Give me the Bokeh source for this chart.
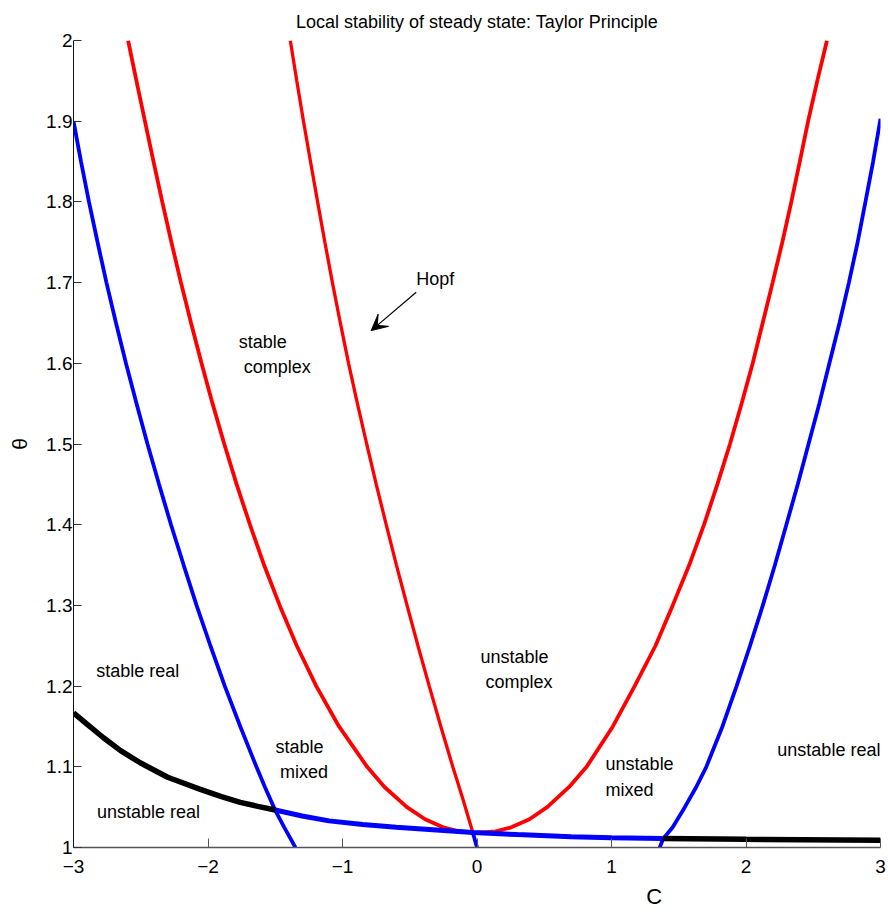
from bokeh.plotting import figure
from bokeh.embed import file_html
from bokeh.resources import INLINE
from bokeh.models import FixedTicker, Label, Arrow, VeeHead

FONT = "Liberation Sans"

# ---- data ----
x_ticks = [-3, -2, -1, 0, 1, 2, 3]
x_tick_labels = ["\u22123", "\u22122", "\u22121", "0", "1", "2", "3"]
y_ticks = [1.0, 1.1, 1.2, 1.3, 1.4, 1.5, 1.6, 1.7, 1.8, 1.9, 2.0]
y_tick_labels = ["1", "1.1", "1.2", "1.3", "1.4", "1.5", "1.6", "1.7", "1.8", "1.9", "2"]

# red boundary (parabola-like), left branch then right branch
red_par_x = [-2.594, -2.532, -2.469, -2.405, -2.340, -2.272, -2.201, -2.126, -2.048, -1.966,
             -1.879, -1.787, -1.688, -1.583, -1.467, -1.340, -1.195, -1.026, -0.817, -0.688,
             -0.521, -0.386, -0.252, -0.136, 0.0,
             0.138, 0.255, 0.390, 0.522, 0.685, 0.815, 1.010, 1.172, 1.327, 1.455, 1.578,
             1.688, 1.787, 1.881, 1.967, 2.050, 2.124, 2.198, 2.270, 2.337, 2.400, 2.462,
             2.530, 2.602]
red_par_y = [2.0, 1.95, 1.9, 1.85, 1.8, 1.75, 1.7, 1.65, 1.6, 1.55,
             1.5, 1.45, 1.4, 1.35, 1.3, 1.25, 1.2, 1.15, 1.1, 1.075,
             1.05, 1.035, 1.025, 1.02, 1.018,
             1.02, 1.025, 1.035, 1.05, 1.075, 1.1, 1.15, 1.2, 1.25, 1.3, 1.35,
             1.4, 1.45, 1.5, 1.55, 1.6, 1.65, 1.7, 1.75, 1.8, 1.85, 1.9,
             1.95, 2.0]

# Hopf boundary (red, steep)
hopf_x = [-1.388, -1.340, -1.290, -1.238, -1.185, -1.131, -1.075, -1.016, -0.955, -0.889,
          -0.820, -0.749, -0.675, -0.599, -0.520, -0.439, -0.355, -0.269, -0.180, -0.105, -0.030]
hopf_y = [2.0, 1.95, 1.9, 1.85, 1.8, 1.75, 1.7, 1.65, 1.6, 1.55,
          1.5, 1.45, 1.4, 1.35, 1.3, 1.25, 1.2, 1.15, 1.1, 1.06, 1.018]

blue_stub_x = [-0.03, 0.0]
blue_stub_y = [1.018, 1.0]

blue_left_x = [-3.0, -2.944, -2.885, -2.821, -2.755, -2.684, -2.610, -2.531, -2.450, -2.364,
               -2.275, -2.181, -2.085, -1.982, -1.875, -1.760, -1.640, -1.577, -1.500, -1.433, -1.350]
blue_left_y = [1.9, 1.85, 1.8, 1.75, 1.7, 1.65, 1.6, 1.55, 1.5, 1.45,
               1.4, 1.35, 1.3, 1.25, 1.2, 1.15, 1.1, 1.075, 1.046, 1.025, 1.0]

blue_flat_x = [-1.5, -1.3, -1.1, -0.85, -0.6, -0.03, 0.3, 0.7, 1.0, 1.38]
blue_flat_y = [1.0464, 1.039, 1.033, 1.0285, 1.025, 1.0185, 1.016, 1.0133, 1.0122, 1.0112]

blue_right_x = [1.358, 1.385, 1.455, 1.545, 1.630, 1.705, 1.825, 1.930, 2.030, 2.125, 2.215,
                2.300, 2.385, 2.465, 2.545, 2.620, 2.695, 2.765, 2.830, 2.888, 2.945, 3.0]
blue_right_y = [1.0, 1.011, 1.025, 1.05, 1.075, 1.1, 1.15, 1.2, 1.25, 1.3, 1.35,
                1.4, 1.45, 1.5, 1.55, 1.6, 1.65, 1.7, 1.75, 1.8, 1.85, 1.903]

black_left_x = [-3.0, -2.9, -2.777, -2.65, -2.504, -2.3, -2.057, -1.9, -1.76, -1.63, -1.5]
black_left_y = [1.167, 1.153, 1.136, 1.12, 1.105, 1.087, 1.072, 1.063, 1.056, 1.051, 1.0464]

black_right_x = [1.38, 2.0, 3.0]
black_right_y = [1.0112, 1.0102, 1.009]

# ---- figure ----
p = figure(width=888, height=912, x_range=(-3, 3), y_range=(1, 2),
           output_backend="svg", toolbar_location=None,
           min_border_left=73, min_border_right=8, min_border_top=40, min_border_bottom=65)
p.outline_line_color = None
p.xgrid.visible = False
p.ygrid.visible = False
p.background_fill_color = "white"
p.border_fill_color = "white"

p.title.text = "Local stability of steady state: Taylor Principle"
p.title.align = "center"
p.title.text_font = FONT
p.title.text_font_size = "18px"
p.title.text_font_style = "normal"
p.title.text_color = "black"
p.title.standoff = 18

p.xaxis.ticker = FixedTicker(ticks=x_ticks)
p.xaxis.major_label_overrides = {t: l for t, l in zip(x_ticks, x_tick_labels)}
p.yaxis.ticker = FixedTicker(ticks=y_ticks)
p.yaxis.major_label_overrides = {t: l for t, l in zip(y_ticks, y_tick_labels)}

for ax in (p.xaxis[0], p.yaxis[0]):
    ax.major_tick_out = 0
    ax.minor_tick_in = 0
    ax.minor_tick_out = 0
    ax.major_label_text_font = FONT
    ax.major_label_text_font_size = "19px"
    ax.major_label_text_color = "black"
    ax.axis_label_text_font = FONT
    ax.axis_label_text_font_style = "normal"
    ax.axis_label_text_color = "black"

p.xaxis.major_tick_in = 9
p.yaxis.major_tick_in = 8
p.xaxis.axis_line_color = "#555555"
p.xaxis.major_tick_line_color = "#555555"
p.xaxis.axis_line_width = 1.5
p.yaxis.axis_line_color = "#111111"
p.yaxis.major_tick_line_color = "#333333"
p.xaxis.major_label_standoff = 12
p.yaxis.major_label_standoff = 1

# x label "C" sits right of centre in the reference: pad with no-break spaces
p.xaxis.axis_label = "\u00a0" * 58 + "C"
p.xaxis.axis_label_text_font_size = "22px"
p.xaxis.axis_label_standoff = 8
p.yaxis.axis_label = "\u03b8"
p.yaxis.axis_label_text_font_size = "21px"
p.yaxis.axis_label_standoff = 12

# ---- curves ----
p.line(red_par_x, red_par_y, line_color="red", line_width=3.8)
p.line(hopf_x, hopf_y, line_color="red", line_width=3.3)
p.line(blue_left_x, blue_left_y, line_color="blue", line_width=3.8)
p.line(blue_right_x, blue_right_y, line_color="blue", line_width=3.8)
p.line(blue_stub_x, blue_stub_y, line_color="blue", line_width=3.8)
p.line(black_left_x, black_left_y, line_color="black", line_width=5.5)
p.line(black_right_x, black_right_y, line_color="black", line_width=5.5)
p.line(blue_flat_x, blue_flat_y, line_color="blue", line_width=5)

# ---- region labels ----
labels = [
    ("stable real", -2.831, 1.219),
    ("unstable real", -2.826, 1.0434),
    ("stable", -1.499, 1.1248),
    ("mixed", -1.464, 1.093),
    ("stable", -1.772, 1.626),
    ("complex", -1.735, 1.595),
    ("unstable", 0.026, 1.2364),
    ("complex", 0.063, 1.2045),
    ("unstable", 0.956, 1.104),
    ("mixed", 0.956, 1.071),
    ("unstable real", 2.233, 1.1207),
    ("Hopf", -0.452, 1.7046),
]
for t, lx, ly in labels:
    p.add_layout(Label(x=lx, y=ly, text=t, text_font=FONT, text_font_size="18px",
                       text_align="left", text_baseline="middle", text_color="black"))

p.add_layout(Arrow(x_start=-0.452, y_start=1.688, x_end=-0.787, y_end=1.6405,
                   line_width=1.2, line_color="black",
                   end=VeeHead(size=16, fill_color="black", line_color="black")))

open("out.html", "w").write(file_html(p, INLINE))
